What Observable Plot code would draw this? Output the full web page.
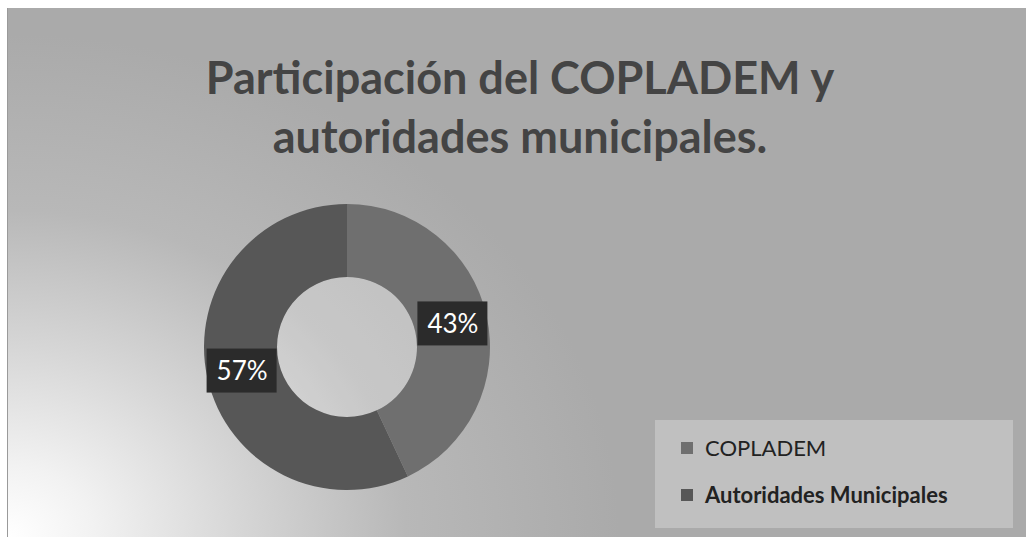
<!DOCTYPE html>
<html>
<head>
<meta charset="utf-8">
<script src="https://cdn.jsdelivr.net/npm/d3@7"></script>
<script src="https://cdn.jsdelivr.net/npm/@observablehq/plot@0.6"></script>
<style>
  html, body { margin: 0; padding: 0; background: #ffffff; }
  #frame { position: relative; width: 1026px; height: 537px; overflow: hidden; background: #ffffff; }
  #area {
    position: absolute; left: 7px; top: 8px; width: 1019px; height: 529px;
    background: radial-gradient(ellipse 60% 95% at 0% 100%, #ffffff 0%, #f2f2f2 14%, #d6d6d6 38%, #b8b8b8 65%, #aaaaaa 100%);
    border-left: 1px solid #9a9a9a;
  }
  #title {
    position: absolute; left: 0; top: 0; width: 1026px; height: 190px;
    font-family: Lato, "Open Sans", sans-serif; font-weight: 700; font-size: 45px;
    color: #444444; text-align: center; line-height: 59px; padding-top: 48px; box-sizing: border-box;
    margin-left: 7px;
  }
  #chart { position: absolute; left: 0; top: 190px; }
  #legend {
    position: absolute; left: 655px; top: 420px; width: 358px; height: 108px;
    background: #c0c0c0;
    font-family: Lato, "Open Sans", sans-serif; font-size: 22px; color: #222;
  }
  .item { position: absolute; left: 26px; display: flex; align-items: center; white-space: nowrap; }
  .sw { width: 12px; height: 12px; margin-right: 12px; }
</style>
</head>
<body>
<div id="frame">
  <div id="area"></div>
  <div id="title">Participación del COPLADEM y<br>autoridades municipales.</div>
  <div id="chart"></div>
  <div id="legend"></div>
</div>
<script>
const categories = ["COPLADEM", "Autoridades Municipales"];
const values = [43, 57];
const valueLabels = ["43%", "57%"];
const colors = ["#6f6f6f", "#575757"];
const legendWeights = [400, 700];

const data = categories.map((c, i) => ({category: c, value: values[i], label: valueLabels[i], color: colors[i]}));

const cx = 347, cy = 157, rOuter = 143, rInner = 70, rLabel = 108;
const pie = d3.pie().sort(null).value(d => d.value);
const arcs = pie(data);
const arcGen = d3.arc().innerRadius(rInner).outerRadius(rOuter);
const labelArc = d3.arc().innerRadius(rLabel).outerRadius(rLabel);
const labelData = arcs.map(a => {
  const [lx, ly] = labelArc.centroid(a);
  return {x: cx + lx, y: cy + ly, label: a.data.label};
});

function donutMark(index, scales, values, dimensions, context) {
  const g = d3.select(context.document.createElementNS("http://www.w3.org/2000/svg", "g"))
    .attr("transform", `translate(${cx},${cy})`);
  g.append("circle").attr("r", rInner).attr("fill", "#ffffff").attr("fill-opacity", 0.22);
  g.selectAll("path").data(arcs).join("path")
    .attr("d", arcGen)
    .attr("fill", d => d.data.color)
    .attr("stroke", "none");
  return g.node();
}

const chart = Plot.plot({
  width: 1026,
  height: 347,
  margin: 0,
  x: {type: "identity", axis: null},
  y: {type: "identity", axis: null},
  style: {background: "transparent", overflow: "visible"},
  marks: [
    donutMark,
    Plot.rect(labelData, {x1: d => d.x - 35, x2: d => d.x + 35, y1: d => d.y - 22, y2: d => d.y + 22, fill: "#2b2b2b"}),
    Plot.text(labelData, {x: "x", y: "y", text: "label", fill: "#ffffff", fontSize: 26, fontFamily: "Lato, 'Open Sans', sans-serif", dy: 1})
  ]
});
document.getElementById("chart").appendChild(chart);

const legend = document.getElementById("legend");
categories.forEach((c, i) => {
  const item = document.createElement("div");
  item.className = "item";
  item.style.top = (i === 0 ? 14 : 61) + "px";
  item.style.fontWeight = legendWeights[i];
  const sw = document.createElement("div");
  sw.className = "sw";
  sw.style.background = colors[i];
  const t = document.createElement("span");
  t.textContent = c;
  item.appendChild(sw);
  item.appendChild(t);
  legend.appendChild(item);
});
</script>
</body>
</html>
